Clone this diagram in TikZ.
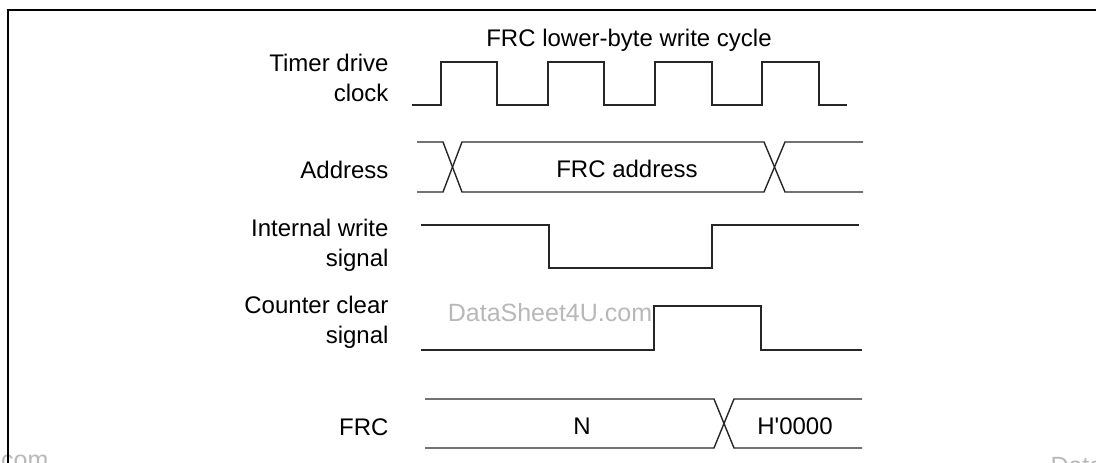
\documentclass[tikz,border=0pt]{standalone}
\usepackage{fontspec}
\setmainfont{Liberation Sans}
\begin{document}
\begin{tikzpicture}[x=1pt, y=-1pt,
	lbl/.style={anchor=east, align=right, font=\fontsize{24}{30}\selectfont},
	txt/.style={font=\fontsize{24}{29}\selectfont},
	wave/.style={line width=1.4pt, draw=black!85},
	wmark/.style={text=black!28, font=\fontsize{25}{30}\selectfont}]
	
	\useasboundingbox (0,0) rectangle (1096,463);
	\clip (0,0) rectangle (1096,463);
	
	% 1. 水印与外框
	\node[wmark] (wm) at (550,313) {DataSheet4U.com};
	\node[wmark, anchor=base east] (wmL) at (52,468) {DataSheet4U.com};
	\node[wmark, anchor=base west] (wmR) at (1047,474) {DataSheet4U.com};
	\draw[line width=1.5pt] (8,463) -- (8,10) -- (1096,10);
	
	% 2. 标题与信号名称
	\node[txt] (title) at (629,40) {FRC lower-byte write cycle};
	\node[lbl] (clk) at (392,77.5) {Timer drive\\clock};
	\node[lbl] (addr) at (392,170) {Address};
	\node[lbl] (wr) at (392,245) {Internal write\\signal};
	\node[lbl] (clr) at (392,322) {Counter clear\\signal};
	\node[lbl] (frc) at (392,427) {FRC};
	
	% 3. 定时器时钟
	\draw[wave] (412,105) -- (441,105) -- (441,62) -- (497,62) -- (497,105)
		-- (548,105) -- (548,62) -- (604,62) -- (604,105)
		-- (655,105) -- (655,62) -- (712,62) -- (712,105)
		-- (762,105) -- (762,62) -- (819,62) -- (819,105) -- (847,105);
	
	% 4. 地址总线
	\draw[wave] (417,142) -- (443,142) -- (462,192) -- (764,192) -- (785,142) -- (863,142);
	\draw[wave] (417,192) -- (443,192) -- (462,142) -- (764,142) -- (785,192) -- (863,192);
	\node[txt] (addrval) at (627,169) {FRC address};
	
	% 5. 内部写信号
	\draw[wave] (421,225) -- (549,225) -- (549,268) -- (712,268) -- (712,225) -- (859,225);
	
	% 6. 计数器清零信号
	\draw[wave] (421,350) -- (654,350) -- (654,306) -- (761,306) -- (761,350) -- (862,350);
	
	% 7. FRC 数值
	\draw[wave] (425,399) -- (714,399) -- (734,448) -- (862,448);
	\draw[wave] (425,448) -- (714,448) -- (734,399) -- (862,399);
	\node[txt] (valN) at (582,426) {N};
	\node[txt] (val0) at (795,426) {H\textquotesingle0000};
	
\end{tikzpicture}
\end{document}
